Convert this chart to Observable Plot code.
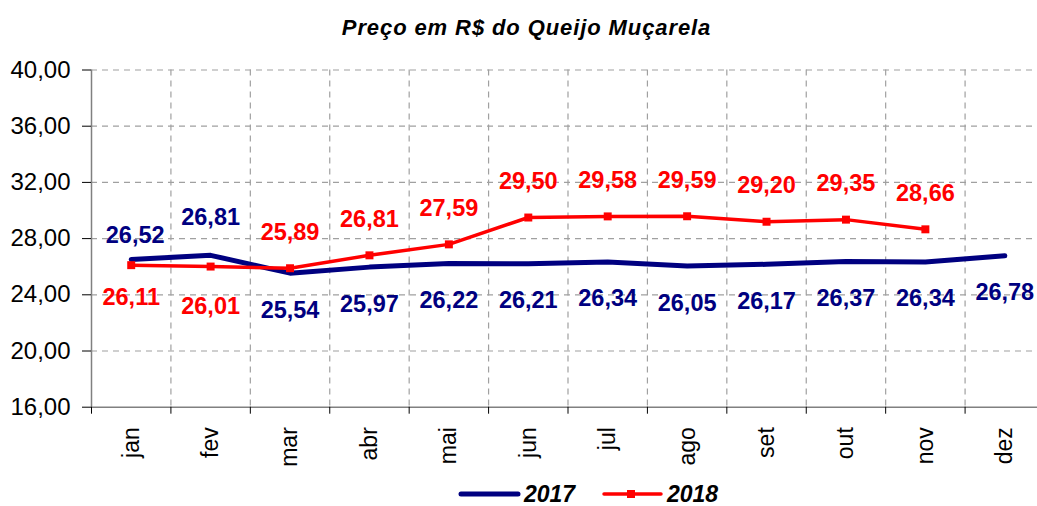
<!DOCTYPE html>
<html>
<head>
<meta charset="utf-8">
<script src="https://cdn.jsdelivr.net/npm/d3@7"></script>
<script src="https://cdn.jsdelivr.net/npm/@observablehq/plot@0.6"></script>
<style>
  html, body { margin: 0; padding: 0; background: #fff; overflow: hidden; }
  body { width: 1037px; height: 506px; font-family: "Liberation Sans", Arial, sans-serif; }
  #title { height: 45px; line-height: 56px; text-align: center; font-weight: bold; font-style: italic; font-size: 22px; letter-spacing: 0.9px; color: #000; padding-left: 16px; box-sizing: border-box; }
  #chart svg { display: block; overflow: visible; }
  #legend { height: 31px; }
</style>
</head>
<body>
<div id="title">Preço em R$ do Queijo Muçarela</div>
<div id="chart"></div>
<div id="legend"></div>
<script>
const months = ["jan","fev","mar","abr","mai","jun","jul","ago","set","out","nov","dez"];
const values2017 = [26.52, 26.81, 25.54, 25.97, 26.22, 26.21, 26.34, 26.05, 26.17, 26.37, 26.34, 26.78];
const values2018 = [26.11, 26.01, 25.89, 26.81, 27.59, 29.50, 29.58, 29.59, 29.20, 29.35, 28.66];
const yTicks = [16, 20, 24, 28, 32, 36, 40];
const seriesNames = ["2017", "2018"];

const navy = "#000080", red = "#ff0000";
const fmt = d => d.toFixed(2).replace(".", ",");

const d2017 = values2017.map((v, i) => ({i: i + 0.5, v, m: months[i]}));
const d2018 = values2018.map((v, i) => ({i: i + 0.5, v, m: months[i]}));

// label offsets (layout only)
const off2017 = i => (i === 0 ? -24 : i === 1 ? -38 : 37);
const off2018 = i => (i === 0 ? 32 : i === 1 ? 40 : -36);

const labelMarks = [];
d2017.forEach((d, k) => labelMarks.push(Plot.text([d], {x: "i", y: "v", text: d => fmt(d.v), dy: off2017(k), dx: k === 0 ? 4 : 0, fill: navy, fontSize: 23.5, fontWeight: "bold"})));
d2018.forEach((d, k) => labelMarks.push(Plot.text([d], {x: "i", y: "v", text: d => fmt(d.v), dy: off2018(k), fill: red, fontSize: 23.5, fontWeight: "bold"})));

const chart = Plot.plot({
  width: 1037,
  height: 430,
  marginLeft: 91,
  marginRight: 0,
  marginTop: 24.5,
  marginBottom: 68.3,
  style: {fontFamily: "'Liberation Sans', Arial, sans-serif", color: "#000", background: "#fff", overflow: "visible"},
  x: {type: "linear", domain: [0, 12], range: [91, 1044]},
  y: {domain: [16, 40]},
  marks: [
    Plot.gridY(yTicks.slice(1), {stroke: "#a0a0a0", strokeOpacity: 1, strokeDasharray: "6,5", strokeWidth: 1.2}),
    Plot.gridX(d3.range(1, 12), {stroke: "#a0a0a0", strokeOpacity: 1, strokeDasharray: "6,5", strokeWidth: 1.2}),
    Plot.ruleX([0], {stroke: "#808080", strokeWidth: 1.5}),
    Plot.ruleY([16], {stroke: "#808080", strokeWidth: 1.5}),
    Plot.axisY(yTicks, {tickSize: 9, tickPadding: 12, tickFormat: fmt, fontSize: 24, label: null, stroke: "#000"}),
    Plot.axisX(d3.range(0, 13), {tickSize: 7, tickFormat: () => "", label: null, stroke: "#000"}),
    Plot.axisX(months.map((m, i) => i + 0.5), {tickSize: 0, tickPadding: 20, tickRotate: -90, tickFormat: d => months[Math.floor(d)], fontSize: 23, label: null}),
    Plot.line(d2017, {x: "i", y: "v", stroke: navy, strokeWidth: 5, strokeLinejoin: "round"}),
    Plot.line(d2018, {x: "i", y: "v", stroke: red, strokeWidth: 3.5}),
    Plot.dot(d2018, {x: "i", y: "v", symbol: "square", r: 4.5, fill: red, stroke: "none"}),
    ...labelMarks
  ]
});
document.getElementById("chart").append(chart);

// legend
const ns = "http://www.w3.org/2000/svg";
const lg = document.createElementNS(ns, "svg");
lg.setAttribute("width", 1037);
lg.setAttribute("height", 31);
lg.innerHTML = `
  <line x1="461" y1="19" x2="518" y2="19" stroke="${navy}" stroke-width="5" stroke-linecap="round"/>
  <text x="524" y="27" font-family="Liberation Sans, Arial, sans-serif" font-size="23" font-weight="bold" font-style="italic">${seriesNames[0]}</text>
  <line x1="604" y1="19" x2="661" y2="19" stroke="${red}" stroke-width="3.5" stroke-linecap="round"/>
  <rect x="627" y="15" width="8" height="8" fill="${red}"/>
  <text x="667" y="27" font-family="Liberation Sans, Arial, sans-serif" font-size="23" font-weight="bold" font-style="italic">${seriesNames[1]}</text>
`;
document.getElementById("legend").append(lg);
</script>
</body>
</html>
